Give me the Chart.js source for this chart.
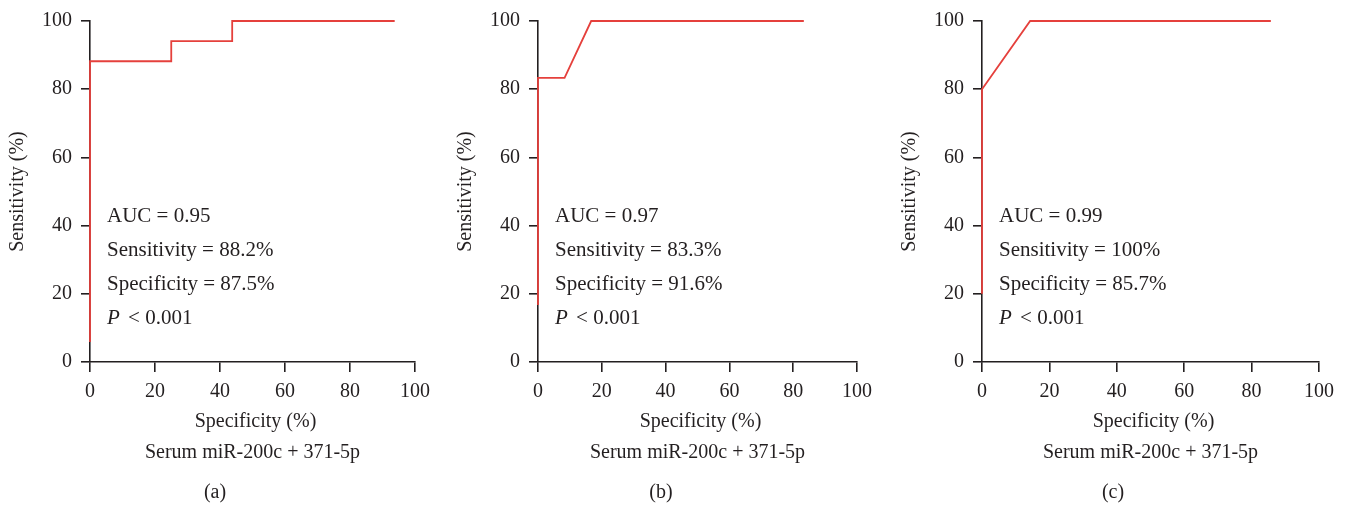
<!DOCTYPE html>
<html>
<head>
<meta charset="utf-8">
<script src="https://cdn.jsdelivr.net/npm/chart.js@4"></script>
<style>
    html, body { margin: 0; padding: 0; background: #fff; }
    #wrap { position: relative; width: 1347px; height: 508px; }
    .panel { position: absolute; top: 0; height: 508px; }
</style>
</head>
<body>
<div id="wrap">
    <div class="panel" style="left:0;width:450px"><canvas id="rocA"></canvas></div>
    <div class="panel" style="left:450px;width:445px"><canvas id="rocB"></canvas></div>
    <div class="panel" style="left:895px;width:452px"><canvas id="rocC"></canvas></div>
</div>
<script>
// ROC noktaları: x = specificity (%), y = sensitivity (%)
const specA = [0, 0, 25, 25, 43.75, 43.75, 93.75];
const sensA = [5.88, 88.2, 88.2, 94.1, 94.1, 100, 100];
const specB = [0, 0, 8.33, 16.67, 83.33];
const sensB = [16.7, 83.3, 83.3, 100, 100];
const specC = [0, 0, 14.29, 85.71];
const sensC = [20, 80, 100, 100];

// Eksen etiketleri
const axisTicks = [0, 20, 40, 60, 80, 100];
const xTitle = 'Specificity (%)';
const yTitle = 'Sensitivity (%)';
const caption = 'Serum miR-200c + 371-5p';
const panelLabels = ['(a)', '(b)', '(c)'];

// İstatistik metinleri
const aucTexts = ['AUC = 0.95', 'AUC = 0.97', 'AUC = 0.99'];
const sensTexts = ['Sensitivity = 88.2%', 'Sensitivity = 83.3%', 'Sensitivity = 100%'];
const specTexts = ['Specificity = 87.5%', 'Specificity = 91.6%', 'Specificity = 85.7%'];
const pTexts = ['< 0.001', '< 0.001', '< 0.001'];

const FONT = '"Liberation Serif", "DejaVu Serif", serif';
const INK = '#231f20';
const RED = '#e5403c';

// Panel yerleşimi (piksel)
const panels = [
    { id: 'rocA', spec: specA, sens: sensA, left: 90, right: 35, labelX: 215 },
    { id: 'rocB', spec: specB, sens: sensB, left: 88, right: 38, labelX: 211 },
    { id: 'rocC', spec: specC, sens: sensC, left: 87, right: 28, labelX: 218 }
];

function makePoints(xs, ys) {
    return xs.map(function(x, i) { return { x: x, y: ys[i] }; });
}

panels.forEach(function(p, idx) {
    // Metinleri çizen eklenti
    const textPlugin = {
        id: 'rocText' + idx,
        afterDraw: function(chart) {
            const ctx = chart.ctx;
            const area = chart.chartArea;
            const cx = (area.left + area.right) / 2;
            ctx.save();
            ctx.fillStyle = INK;
            ctx.textBaseline = 'middle';

            // Y ekseni başlığı
            ctx.font = '20px ' + FONT;
            ctx.save();
            ctx.translate(area.left - 72, (area.top + area.bottom) / 2);
            ctx.rotate(-Math.PI / 2);
            ctx.textAlign = 'center';
            ctx.fillText(yTitle, 0, 0);
            ctx.restore();

            // X ekseni başlığı ve alt yazı
            ctx.textAlign = 'center';
            ctx.fillText(xTitle, cx + 3, 422);
            ctx.fillText(caption, cx, 453);
            ctx.fillText(panelLabels[idx], p.labelX, 493);

            // İstatistikler
            ctx.textAlign = 'left';
            ctx.font = '21px ' + FONT;
            const tx = area.left + 17;
            ctx.fillText(aucTexts[idx], tx, 216);
            ctx.fillText(sensTexts[idx], tx, 250);
            ctx.fillText(specTexts[idx], tx, 284);
            ctx.font = 'italic 21px ' + FONT;
            ctx.fillText('P', tx, 318);
            const pw = ctx.measureText('P ').width;
            ctx.font = '21px ' + FONT;
            ctx.fillText(pTexts[idx], tx + pw + 3, 318);
            ctx.restore();
        }
    };

    const axisCommon = {
        type: 'linear',
        min: 0,
        max: 100,
        afterBuildTicks: function(scale) {
            scale.ticks = axisTicks.map(function(v) { return { value: v }; });
        },
        border: { display: true, color: INK, width: 1.6 },
        grid: {
            display: true,
            drawOnChartArea: false,
            drawTicks: true,
            tickLength: 9,
            color: INK,
            lineWidth: 1.6
        }
    };

    new Chart(document.getElementById(p.id), {
        type: 'line',
        data: {
            datasets: [{
                data: makePoints(p.spec, p.sens),
                borderColor: RED,
                borderWidth: 1.8,
                pointRadius: 0,
                tension: 0,
                fill: false,
                clip: false
            }]
        },
        options: {
            responsive: true,
            maintainAspectRatio: false,
            animation: false,
            layout: { padding: { top: 20, right: p.right, bottom: 0, left: 0 } },
            plugins: {
                legend: { display: false },
                tooltip: { enabled: false }
            },
            scales: {
                x: Object.assign({}, axisCommon, {
                    position: 'bottom',
                    grid: Object.assign({}, axisCommon.grid, { tickLength: 10 }),
                    ticks: { color: INK, font: { family: FONT, size: 20 }, padding: 8, maxRotation: 0 },
                    afterFit: function(scale) { scale.height = 146; }
                }),
                y: Object.assign({}, axisCommon, {
                    position: 'left',
                    ticks: { color: INK, font: { family: FONT, size: 20 }, padding: 9 },
                    afterFit: function(scale) { scale.width = p.left; }
                })
            }
        },
        plugins: [textPlugin]
    });
});
</script>
</body>
</html>
